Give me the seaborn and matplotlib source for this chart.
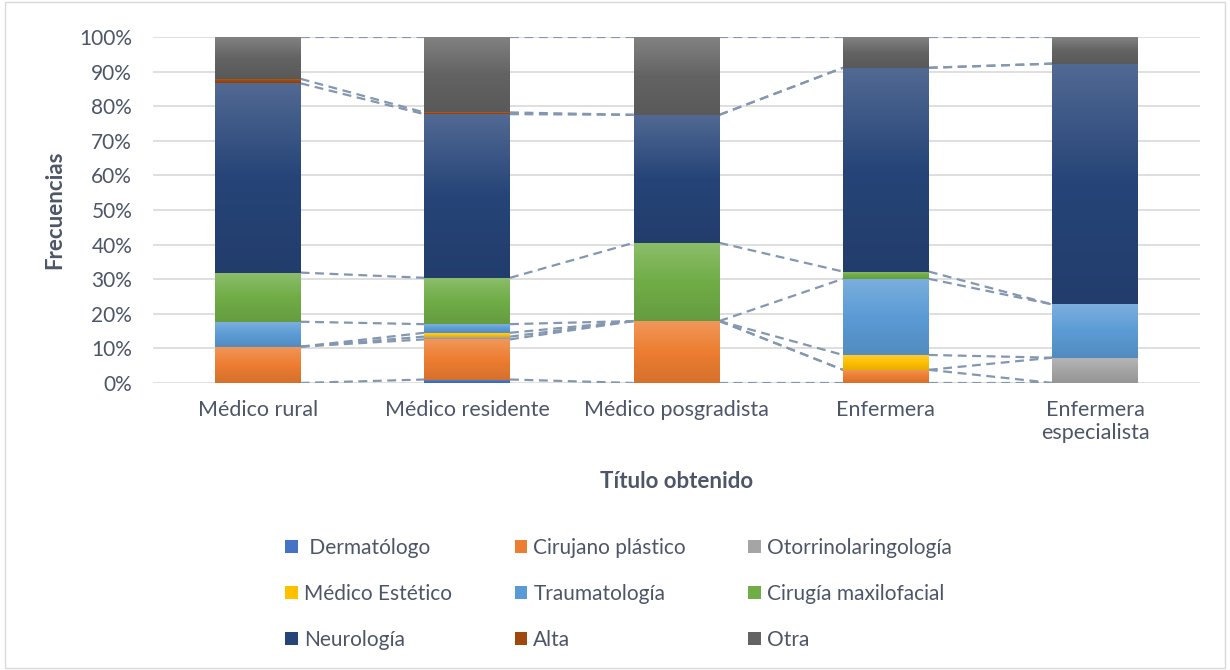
import matplotlib
matplotlib.use("Agg")
import matplotlib.pyplot as plt
from matplotlib.colors import LinearSegmentedColormap, to_rgb
from matplotlib.patches import Patch, Rectangle
import numpy as np
import pandas as pd
import seaborn as sns

# categorias (titulo obtenido)
titulos = ["Médico rural", "Médico residente", "Médico posgradista",
           "Enfermera", "Enfermera\nespecialista"]

# porcentaje de cada respuesta por titulo
dermatologo = [0.0, 1.0, 0.0, 0.0, 0.0]
cirujano_plastico = [10.5, 11.6, 17.9, 3.8, 0.0]
otorrino = [0.0, 0.8, 0.0, 0.0, 7.3]
medico_estetico = [0.0, 1.1, 0.0, 4.3, 0.0]
traumatologia = [7.2, 2.5, 0.0, 22.0, 15.4]
cirugia_maxilofacial = [14.2, 13.4, 22.6, 2.1, 0.0]
neurologia = [54.7, 47.3, 37.0, 58.9, 69.6]
alta = [1.3, 0.5, 0.0, 0.0, 0.0]
otra = [12.1, 21.8, 22.5, 8.9, 7.7]

series = [" Dermatólogo", "Cirujano plástico", "Otorrinolaringología",
          "Médico Estético", "Traumatología", "Cirugía maxilofacial",
          "Neurología", "Alta", "Otra"]
colores = ["#4472C4", "#ED7D31", "#A5A5A5", "#FFC000", "#5B9BD5",
           "#70AD47", "#264478", "#9E480E", "#636363"]

df = pd.DataFrame(
    [dermatologo, cirujano_plastico, otorrino, medico_estetico, traumatologia,
     cirugia_maxilofacial, neurologia, alta, otra],
    index=series, columns=titulos)

sns.set_theme(style="white")
plt.rcParams["font.family"] = ["Lato", "DejaVu Sans"]
txt = "#4d5668"

fig, ax = plt.subplots(figsize=(12.3, 6.7), dpi=100)
fig.subplots_adjust(left=0.1244, right=0.9756, bottom=0.4284, top=0.9448)

ancho = 0.41


def mezcla(c, otro, t):
    c = np.array(to_rgb(c))
    return tuple(c * (1 - t) + np.array(otro) * t)


bottom = np.zeros(len(titulos))
tops = []
for serie, col in zip(series, colores):
    vals = df.loc[serie].values
    n0 = len(ax.patches)
    sns.barplot(x=titulos, y=vals, bottom=bottom, color=col, width=ancho,
                saturation=1, ax=ax, zorder=2, linewidth=0)
    # degradado vertical tipo Excel
    cmap = LinearSegmentedColormap.from_list(
        "g", [mezcla(col, (0, 0, 0), 0.1), to_rgb(col), mezcla(col, (1, 1, 1), 0.2)])
    grad = np.linspace(0, 1, 256).reshape(-1, 1)
    for p in ax.patches[n0:]:
        if p.get_height() <= 1e-6:
            continue
        x0, y0 = p.get_x(), p.get_y()
        im = ax.imshow(grad, cmap=cmap, origin="lower", aspect="auto",
                       extent=[x0, x0 + p.get_width(), y0, y0 + p.get_height()],
                       zorder=3)
        im.set_clip_path(p)
    bottom = bottom + vals
    tops.append(bottom.copy())

# lineas de serie (conectan los segmentos)
for top in tops:
    for j in range(len(titulos) - 1):
        ax.plot([j + ancho / 2, j + 1 - ancho / 2], [top[j], top[j + 1]],
                color="#8497B0", lw=1.6, ls=(0, (4, 2.5)), zorder=1.5)

ax.set_xlim(-0.5, len(titulos) - 0.5)
ax.set_ylim(0, 100)
ax.set_yticks(range(0, 101, 10))
ax.set_yticklabels([f"{v}%" for v in range(0, 101, 10)])
ax.yaxis.grid(True, color="#d9d9d9", lw=1.2, zorder=0)
ax.set_axisbelow(True)
for s in ax.spines.values():
    s.set_visible(False)
ax.tick_params(axis="y", length=0, pad=15, labelsize=15, labelcolor=txt)
ax.tick_params(axis="x", length=0, pad=12, labelsize=15.5, labelcolor=txt)

ax.set_xlabel("Título obtenido", fontsize=16, fontweight="bold", color=txt)
ax.set_ylabel("Frecuencias", fontsize=16, fontweight="bold", color=txt)
ax.xaxis.set_label_coords(0.5, -0.255)
ax.yaxis.set_label_coords(-0.084, 0.5)

# leyenda 3x3, ordenada por filas
handles = [Patch(facecolor=c, edgecolor="none") for c in colores]
orden = [0, 3, 6, 1, 4, 7, 2, 5, 8]
leg = fig.legend([handles[i] for i in orden], [series[i] for i in orden],
                 ncol=3, loc="upper left", bbox_to_anchor=(0.232, 0.197),
                 frameon=False, fontsize=15, handlelength=0.6, handleheight=0.6,
                 handletextpad=0.3, columnspacing=3.0, labelspacing=1.25,
                 borderaxespad=0, borderpad=0)
for t in leg.get_texts():
    t.set_color(txt)

fig.add_artist(Rectangle((0.004, 0.003), 0.992, 0.994, transform=fig.transFigure,
                         fill=False, ec="#d9d9d9", lw=1))

fig.savefig("out.png", dpi=100)
